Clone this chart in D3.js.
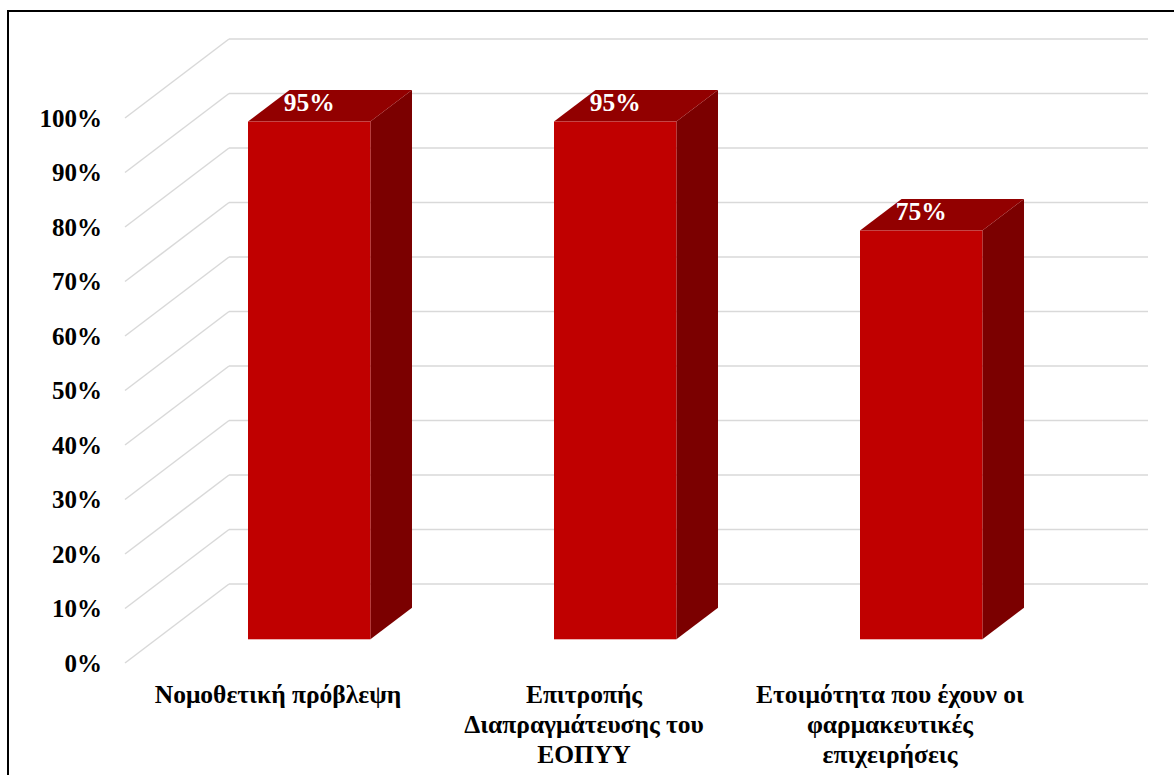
<!DOCTYPE html>
<html>
<head>
<meta charset="utf-8">
<script src="https://cdn.jsdelivr.net/npm/d3@7/dist/d3.min.js"></script>
<style>
  html, body { margin: 0; padding: 0; background: #fff; }
  svg { display: block; }
</style>
</head>
<body>
<svg id="chart" width="1174" height="775"></svg>
<script>
// Category labels (each entry is the list of lines shown under the bar)
const categories = [
  ["Νομοθετική πρόβλεψη"],
  ["Επιτροπής", "Διαπραγμάτευσης του", "ΕΟΠΥΥ"],
  ["Ετοιμότητα που έχουν οι", "φαρμακευτικές", "επιχειρήσεις"]
];
const values = [0.95, 0.95, 0.75];
const valueLabels = ["95%", "95%", "75%"];
const yTicks = [0, 0.1, 0.2, 0.3, 0.4, 0.5, 0.6, 0.7, 0.8, 0.9, 1.0];

const svg = d3.select("#chart");
const W = 1174, H = 775;
const serif = "'Liberation Serif', 'Times New Roman', serif";

// Front plane of the 3D plot area and the depth offset to the back wall
const front = { left: 125, right: 1043, bottom: 663, top: 118 };
const depth = { dx: 104, dy: -79 };
const barDepthStart = 0.3, barDepthEnd = 0.7;
const barWidthFrac = 0.4;

const keys = categories.map((c, i) => "c" + i);
const x = d3.scaleBand().domain(keys).range([front.left, front.right]).padding(0);
const y = d3.scaleLinear().domain([0, 1]).range([front.bottom, front.top]);

// Outer frame
svg.append("rect")
  .attr("x", 8).attr("y", 11)
  .attr("width", W + 20).attr("height", H + 20)
  .attr("fill", "none").attr("stroke", "#000").attr("stroke-width", 2);

const grid = svg.append("g").attr("stroke", "#d9d9d9").attr("stroke-width", 1.5).attr("fill", "none");

// Back wall gridlines
grid.selectAll("line.back").data(yTicks).join("line")
  .attr("class", "back")
  .attr("x1", front.left + depth.dx).attr("x2", front.right + depth.dx + 1)
  .attr("y1", d => y(d) + depth.dy).attr("y2", d => y(d) + depth.dy);

// Side wall gridlines (receding diagonals)
grid.selectAll("line.side").data(yTicks).join("line")
  .attr("class", "side")
  .attr("x1", front.left).attr("y1", d => y(d))
  .attr("x2", front.left + depth.dx).attr("y2", d => y(d) + depth.dy);

// Y axis labels
svg.append("g")
  .selectAll("text").data(yTicks).join("text")
  .attr("x", 102).attr("y", d => y(d))
  .attr("dy", "0.35em")
  .attr("text-anchor", "end")
  .attr("font-family", serif)
  .attr("font-weight", "bold")
  .attr("font-size", 25)
  .attr("fill", "#000")
  .text(d => d3.format(".0%")(d));

// 3D bars
const bw = x.bandwidth() * barWidthFrac;
const ox = depth.dx * barDepthStart, oy = depth.dy * barDepthStart;
const bdx = depth.dx * (barDepthEnd - barDepthStart), bdy = depth.dy * (barDepthEnd - barDepthStart);

const bars = svg.append("g").selectAll("g").data(values.map((v, i) => ({ v, i }))).join("g");

bars.each(function (d) {
  const g = d3.select(this);
  const x0 = x(keys[d.i]) + (x.bandwidth() - bw) / 2 + ox;
  const x1 = x0 + bw;
  const yt = y(d.v) + oy;
  const yb = y(0) + oy;
  // side face
  g.append("path")
    .attr("d", `M${x1},${yt}L${x1 + bdx},${yt + bdy}L${x1 + bdx},${yb + bdy}L${x1},${yb}Z`)
    .attr("fill", "#7b0000");
  // top face
  g.append("path")
    .attr("d", `M${x0},${yt}L${x1},${yt}L${x1 + bdx},${yt + bdy}L${x0 + bdx},${yt + bdy}Z`)
    .attr("fill", "#920000");
  // front face
  g.append("rect")
    .attr("x", x0).attr("y", yt)
    .attr("width", bw).attr("height", yb - yt)
    .attr("fill", "#c00000");
  // value label
  g.append("text")
    .attr("x", x0 + bw / 2)
    .attr("y", yt - 11)
    .attr("text-anchor", "middle")
    .attr("font-family", serif)
    .attr("font-weight", "bold")
    .attr("font-size", 25.5)
    .attr("fill", "#fff")
    .text(valueLabels[d.i]);
});

// Category labels
const catG = svg.append("g");
categories.forEach((lines, i) => {
  const cx = x(keys[i]) + x.bandwidth() / 2;
  const t = catG.append("text")
    .attr("text-anchor", "middle")
    .attr("font-family", serif)
    .attr("font-weight", "bold")
    .attr("font-size", 25.5)
    .attr("fill", "#000");
  lines.forEach((ln, k) => {
    t.append("tspan").attr("x", cx).attr("y", 703 + k * 30).text(ln);
  });
});
</script>
</body>
</html>
